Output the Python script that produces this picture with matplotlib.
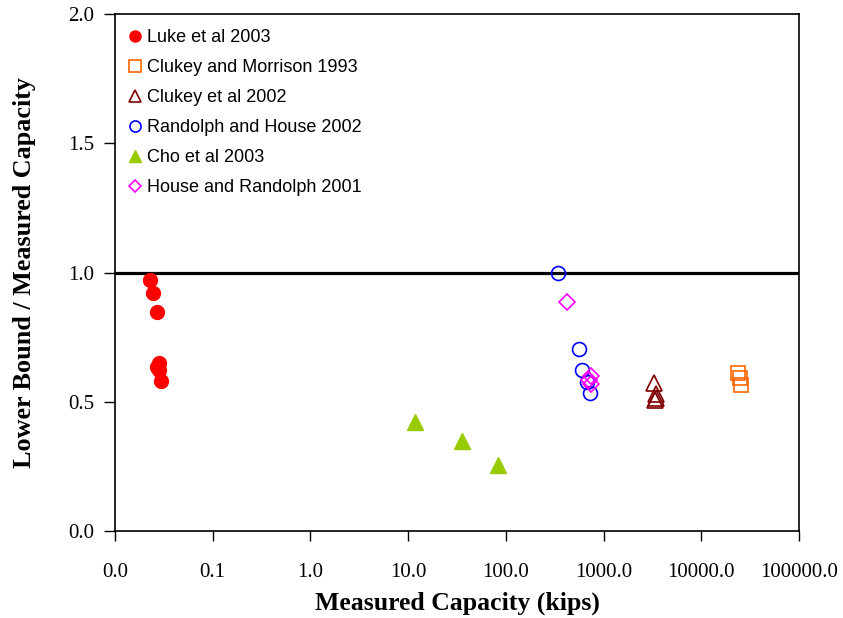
import matplotlib
matplotlib.use("Agg")
import matplotlib.pyplot as plt
from matplotlib.ticker import FixedLocator, FixedFormatter, NullLocator

# ---- data ----
luke_x = [0.0228, 0.0243, 0.0271, 0.0284, 0.0271, 0.0280, 0.0294]
luke_y = [0.971, 0.920, 0.848, 0.651, 0.633, 0.623, 0.580]

clukey_m_x = [23800, 24800, 25700]
clukey_m_y = [0.611, 0.593, 0.563]

clukey_x = [3311, 3400, 3450, 3350]
clukey_y = [0.573, 0.530, 0.515, 0.505]

randolph_x = [344, 565, 607, 682, 733]
randolph_y = [1.000, 0.704, 0.623, 0.575, 0.533]

cho_x = [11.8, 35.4, 82.6]
cho_y = [0.421, 0.350, 0.257]

house_x = [423, 745, 716, 745]
house_y = [0.887, 0.601, 0.584, 0.568]

x_ticks = [0.01, 0.1, 1, 10, 100, 1000, 10000, 100000]
x_tick_labels = ["0.0", "0.1", "1.0", "10.0", "100.0", "1000.0", "10000.0", "100000.0"]
y_ticks = [0.0, 0.5, 1.0, 1.5, 2.0]
y_tick_labels = ["0.0", "0.5", "1.0", "1.5", "2.0"]

# ---- figure ----
fig = plt.figure(figsize=(8.43, 6.18), dpi=100)
ax = fig.add_axes([115/843, 1 - 531/618, (799-115)/843, (531-14)/618])

serif = "Liberation Serif"
sans = "Liberation Sans"

ax.axhline(1.0, color="black", lw=2.3, zorder=1)

mew = 1.2
ax.plot(luke_x, luke_y, 'o', ms=10, color="#FF0000", mec="#FF0000", label="Luke et al 2003", zorder=3)
ax.plot(clukey_m_x, clukey_m_y, 's', ms=10, mfc="none", mec="#FF6600", mew=mew, label="Clukey and Morrison 1993", zorder=3)
ax.plot(clukey_x, clukey_y, '^', ms=11, mfc="none", mec="#800000", mew=mew, label="Clukey et al 2002", zorder=3)
ax.plot(randolph_x, randolph_y, 'o', ms=10, mfc="none", mec="#0000FF", mew=mew, label="Randolph and House 2002", zorder=3)
ax.plot(cho_x, cho_y, '^', ms=11, color="#99CC00", mec="#99CC00", label="Cho et al 2003", zorder=3)
ax.plot(house_x, house_y, 'D', ms=8, mfc="none", mec="#FF00FF", mew=mew, label="House and Randolph 2001", zorder=3)

ax.set_xscale("log")
ax.set_xlim(0.01, 100000)
ax.set_ylim(0, 2.0)
ax.xaxis.set_major_locator(FixedLocator(x_ticks))
ax.xaxis.set_major_formatter(FixedFormatter(x_tick_labels))
ax.xaxis.set_minor_locator(NullLocator())
ax.yaxis.set_major_locator(FixedLocator(y_ticks))
ax.yaxis.set_major_formatter(FixedFormatter(y_tick_labels))

ax.tick_params(axis="x", direction="out", length=7, width=1, pad=16, labelsize=15)
ax.tick_params(axis="y", direction="out", length=8, width=1, pad=7, labelsize=15)
for lab in ax.get_xticklabels() + ax.get_yticklabels():
    lab.set_fontfamily(serif)

for sp in ax.spines.values():
    sp.set_linewidth(1.2)
    sp.set_color("black")

ax.set_xlabel("Measured Capacity (kips)", fontfamily=serif, fontweight="bold", fontsize=18.5, labelpad=7)
ax.set_ylabel("Lower Bound / Measured Capacity", fontfamily=serif, fontweight="bold", fontsize=18.8, labelpad=23)

leg = ax.legend(loc="upper left", bbox_to_anchor=(-0.004, 1.0), frameon=False,
                prop={"family": sans, "size": 13}, markerscale=0.8,
                handlelength=0.8, handletextpad=0.3, labelspacing=0.72,
                borderaxespad=0.4, borderpad=0.45, numpoints=1)

fig.savefig("out.png", dpi=100)
